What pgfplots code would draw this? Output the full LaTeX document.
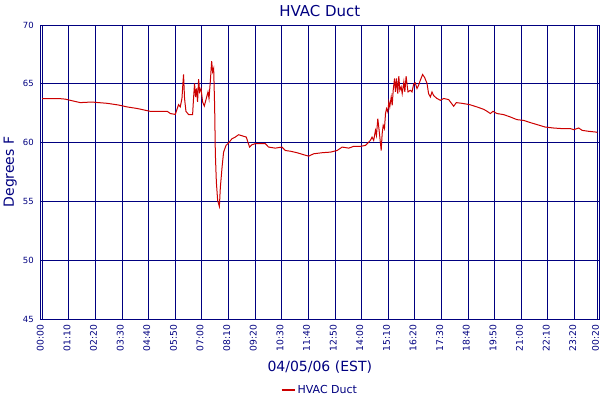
\documentclass[border=0pt]{standalone}
\usepackage{pgfplots}
\pgfplotsset{compat=1.18}
\usepackage{fontspec}
\setmainfont{DejaVu Sans}
\definecolor{navy}{RGB}{0,0,128}
\definecolor{ductred}{RGB}{204,0,0}

\pgfplotstableread{
min temp
0 63.75
42 63.75
60 63.70
100 63.40
130 63.45
171 63.34
200 63.20
224 63.03
250 62.90
284 62.66
329 62.66
337 62.47
350 62.40
358.6 63.23
363 63.03
367.5 63.75
370 65.03
371.7 65.79
374.3 63.77
378 62.66
385 62.38
395.5 62.38
398 63.77
400.6 65.03
403.3 63.88
406 64.60
408.6 63.46
411.3 65.39
414 64.31
417.6 64.60
421.8 63.46
426.3 63.11
431.5 63.75
436 64.31
438.7 63.75
442 65.16
445.6 66.93
448.2 66.02
450.9 66.31
453.5 63.03
455.3 59.05
458 56.63
461.4 55.07
465.9 54.58
468.5 56.20
473 57.91
477 59.19
483.3 59.76
490 59.96
499 60.33
507.7 60.47
516.4 60.67
536.6 60.47
545.3 59.62
551.6 59.82
560.3 59.91
573.4 59.91
586.6 59.91
595.3 59.62
613 59.53
630.5 59.62
639.2 59.33
652.4 59.27
670 59.14
687.5 58.97
700.6 58.85
714 59.05
736 59.14
758 59.19
775.5 59.33
788.8 59.62
806 59.53
819 59.68
836.8 59.68
850 59.76
863 60.19
867.5 60.47
871.7 60.19
876.4 61.04
879 60.61
882.5 62.04
886 61.04
889.6 59.91
891.4 59.33
894 60.76
896.7 61.47
900 61.19
902.8 62.47
905.4 62.89
908.8 62.60
911.5 63.46
914 63.03
917.8 63.88
920.4 63.17
923 64.45
926.6 65.45
929 64.31
931.8 65.45
935 64.17
937.8 65.65
940.4 64.45
944 64.74
946.7 64.17
951 65.16
953.6 64.31
957 65.65
959.6 64.88
962 64.31
968 64.45
972.5 64.31
976.8 64.97
981 65.08
985.6 64.60
989.8 64.88
994.4 65.31
1000.4 65.79
1005.6 65.54
1012 65.03
1016 64.17
1020.7 63.88
1025 64.31
1029.3 64.00
1038 63.75
1047 63.60
1055.7 63.75
1068.8 63.66
1082 63.09
1089 63.40
1104 63.34
1124 63.23
1143.5 63.03
1161 62.83
1170 62.66
1178.5 62.47
1185.5 62.66
1196 62.47
1213.5 62.38
1231 62.18
1248.7 61.95
1266 61.89
1283.7 61.70
1301.4 61.53
1323 61.32
1345 61.24
1367 61.19
1389 61.19
1398 61.10
1411 61.24
1420 61.04
1437 60.96
1455 60.90
1460 60.87
}\hvac

\begin{document}
\begin{tikzpicture}
\path[use as bounding box] (0,0) rectangle (600pt,400pt);
\begin{axis}[
    at={(40.3pt,81pt)}, anchor=south west,
    scale only axis,
    width=559pt, height=294pt,
    xmin=-5, xmax=1465,
    ymin=45, ymax=70,
    axis line style={navy, line width=1pt},
    grid=major,
    major grid style={navy, line width=1pt},
    major tick length=0pt,
    xtick={0,70,...,1400,1460},
    xticklabels={00:00,01:10,02:20,03:30,04:40,05:50,07:00,08:10,09:20,10:30,11:40,12:50,14:00,15:10,16:20,17:30,18:40,19:50,21:00,22:10,23:20,00:20},
    ytick={45,50,...,70},
    /pgf/number format/assume math mode=true,
    xticklabel style={rotate=90, anchor=east, font=\fontsize{9.2}{11}\selectfont, text=navy, xshift=-2pt, yshift=1.8pt},
    yticklabel style={font=\fontsize{8.5}{10}\selectfont, text=navy, xshift=-3pt},
    title={HVAC Duct},
    title style={at={(axis description cs:0.5,1)}, anchor=center, yshift=8pt, font=\fontsize{15}{18}\selectfont, text=navy},
    xlabel={04/05/06 (EST)},
    xlabel style={at={(axis description cs:0.5,0)}, anchor=center, yshift=-48pt, font=\fontsize{14}{17}\selectfont, text=navy},
    ylabel={Degrees F},
    ylabel style={at={(axis description cs:0,0.5)}, anchor=center, yshift=30pt, font=\fontsize{14}{17}\selectfont, text=navy},
    legend style={at={(axis description cs:0.5,0)}, anchor=center, yshift=-71pt, draw=none, font=\fontsize{11}{13}\selectfont, text=navy, inner sep=1pt},
    legend image code/.code={\draw[#1, line width=2pt] (0pt,0pt) -- (13pt,0pt);},
]
\addplot[ductred, line width=1pt, mark=none] table[x=min, y=temp] {\hvac};
\addlegendentry{HVAC Duct}
\end{axis}
\end{tikzpicture}
\end{document}
